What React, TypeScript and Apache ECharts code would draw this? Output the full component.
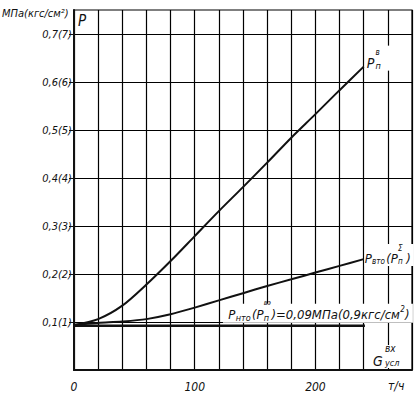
import React, { useEffect, useRef } from 'react';
import * as echarts from 'echarts';

// Data
const xValues = [0, 20, 40, 60, 80, 100, 120, 140, 160, 180, 200, 220, 240];
const pInlet = [0.094, 0.106, 0.134, 0.178, 0.227, 0.279, 0.331, 0.381, 0.432, 0.484, 0.533, 0.583, 0.632];
const pVto = [0.094, 0.098, 0.101, 0.106, 0.116, 0.13, 0.145, 0.16, 0.175, 0.189, 0.203, 0.217, 0.231];
const pNtoX = [0, 241];
const pNtoValue = 0.092;
const xLabelValues = [0, 100, 200];
const yLabelValues = [0.1, 0.2, 0.3, 0.4, 0.5, 0.6, 0.7];
const yTickLabels = ['0,1(1)', '0,2(2)', '0,3(3)', '0,4(4)', '0,5(5)', '0,6(6)', '0,7(7)'];

const FONT = "'Liberation Sans Narrow', 'DejaVu Sans Condensed', 'Liberation Sans', sans-serif";
const INK = '#111';

let measureCtx: CanvasRenderingContext2D | null = null;
function measure(text: string, size: number) {
  if (!measureCtx) measureCtx = document.createElement('canvas').getContext('2d');
  if (!measureCtx) return text.length * size * 0.45;
  measureCtx.font = `italic ${size}px ${FONT}`;
  return measureCtx.measureText(text).width;
}

function txt(text: string, x: number, y: number, size: number, extra: any = {}) {
  return {
    type: 'text',
    x,
    y,
    z: 100,
    style: {
      text,
      fill: INK,
      fontSize: size,
      fontStyle: 'italic',
      fontFamily: FONT,
      verticalAlign: 'middle',
      align: 'left',
      ...extra,
    },
  };
}

type Piece = { t: string; size: number; dy: number; stack?: boolean; gap?: number };
// lays pieces out one after another; a "stack" piece sits above the previous one
function seq(x0: number, y0: number, pieces: Piece[], alignRight = false) {
  let total = 0;
  for (const p of pieces) if (!p.stack) total += (p.gap || 0) + measure(p.t, p.size) + 0.3;
  const out: any[] = [];
  let x = alignRight ? x0 - total : x0;
  let prevX = x;
  for (const p of pieces) {
    if (p.stack) {
      out.push(txt(p.t, prevX, y0 + p.dy, p.size));
      continue;
    }
    x += p.gap || 0;
    out.push(txt(p.t, x, y0 + p.dy, p.size));
    prevX = x;
    x += measure(p.t, p.size) + 0.3;
  }
  return out;
}

function whiteRect(x: number, y: number, w: number, h: number) {
  return { type: 'rect', z: 90, shape: { x, y, width: w, height: h }, style: { fill: '#fff' } };
}

export default function App() {
  const ref = useRef<HTMLDivElement>(null);

  useEffect(() => {
    const chart = echarts.init(ref.current!, null, { renderer: 'svg' });
    const lineStyle = { color: INK, width: 2 };
    const gridLine = { color: '#000', width: 1.2 };
    chart.setOption({
      animation: false,
      backgroundColor: '#fff',
      grid: { left: 74, right: 5, top: 10, bottom: 27, show: true, borderColor: '#000', borderWidth: 1.2 },
      xAxis: {
        type: 'value',
        min: 0,
        max: 280,
        interval: 20,
        axisLine: { show: true, lineStyle: { color: INK, width: 2 } },
        axisTick: { show: false },
        splitLine: { show: true, lineStyle: gridLine },
        axisLabel: {
          customValues: xLabelValues,
          margin: 11,
          color: INK,
          fontSize: 12,
          fontStyle: 'italic',
          fontFamily: FONT,
          formatter: (v: number) => String(v),
        },
      },
      yAxis: {
        type: 'value',
        min: 0,
        max: 0.75,
        interval: 0.05,
        axisLine: { show: true, lineStyle: { color: INK, width: 2 } },
        axisTick: { show: true, customValues: yLabelValues, length: 5, lineStyle: { color: INK, width: 1 } },
        splitLine: { show: true, lineStyle: gridLine },
        axisLabel: {
          customValues: yLabelValues,
          margin: 2,
          color: INK,
          fontSize: 11,
          fontStyle: 'italic',
          fontFamily: FONT,
          formatter: (v: number) => {
            const i = yLabelValues.findIndex((y) => Math.abs(y - v) < 1e-6);
            return i >= 0 ? yTickLabels[i] : '';
          },
        },
      },
      series: [
        {
          type: 'line',
          data: xValues.map((x, i) => [x, pInlet[i]]),
          smooth: 0.3,
          showSymbol: false,
          lineStyle,
          z: 5,
        },
        {
          type: 'line',
          data: xValues.map((x, i) => [x, pVto[i]]),
          smooth: 0.3,
          showSymbol: false,
          lineStyle,
          z: 5,
        },
        {
          type: 'line',
          data: pNtoX.map((x) => [x, pNtoValue]),
          showSymbol: false,
          lineStyle: { color: INK, width: 2.5 },
          z: 5,
        },
      ],
    });

    const px = (p: number[]) => chart.convertToPixel({ gridIndex: 0 }, p) as number[];
    const last = xValues.length - 1;
    const [a1x, a1y] = px([xValues[last], pInlet[last]]);
    const [a2x, a2y] = px([xValues[last], pVto[last]]);
    const [a3x, a3y] = px([pNtoX[1], pNtoValue]);
    const [tlx, tly] = px([0, 0.75]);
    const [brx, bry] = px([280, 0]);

    chart.setOption({
      graphic: [
        // units & axis titles
        txt('МПа(кгс/см²)', tlx - 72, tly + 3, 11),
        txt('P', tlx + 4, tly + 11, 15),
        txt('т/ч', brx - 24, bry + 16, 12),
        whiteRect(brx - 41, bry - 25, 39, 23),
        ...seq(brx - 39, bry - 9, [
          { t: 'G', size: 14, dy: 0 },
          { t: 'усл', size: 9, dy: 2, gap: 2 },
          { t: 'вх', size: 10, dy: -13, stack: true },
        ]),
        // label of upper curve
        whiteRect(a1x + 2, a1y - 21, 30, 25),
        ...seq(a1x + 3, a1y - 4, [
          { t: 'P', size: 14, dy: 0 },
          { t: 'п', size: 9, dy: 3, gap: 1 },
          { t: 'в', size: 8, dy: -10, stack: true },
        ]),
        // label of middle curve
        whiteRect(a2x + 1, a2y - 15, 49, 22),
        ...seq(a2x + 1, a2y - 1, [
          { t: 'P', size: 13, dy: 0 },
          { t: 'вто', size: 8, dy: 3 },
          { t: '(P', size: 13, dy: 0, gap: 1 },
          { t: 'п', size: 8, dy: 3 },
          { t: 'Σ', size: 8, dy: -10, stack: true },
          { t: ')', size: 13, dy: 0, gap: 3 },
        ]),
        // label of flat line
        whiteRect(a3x - 142, a3y - 22, 190, 19),
        ...seq(
          a3x + 45,
          a3y - 11,
          [
            { t: 'P', size: 13, dy: 0 },
            { t: 'нто', size: 9, dy: 3 },
            { t: '(P', size: 13, dy: 0, gap: 1 },
            { t: 'п', size: 9, dy: 3 },
            { t: 'вэ', size: 7, dy: -12, stack: true },
            { t: ')=0,09МПа(0,9кгс/см', size: 13, dy: 0, gap: 2 },
            { t: '2', size: 8, dy: -5 },
            { t: ')', size: 13, dy: 0 },
          ],
          true,
        ),
      ],
    });

    return () => chart.dispose();
  }, []);

  return <div ref={ref} style={{ position: 'fixed', left: 0, top: 0, width: 417, height: 397 }} />;
}
